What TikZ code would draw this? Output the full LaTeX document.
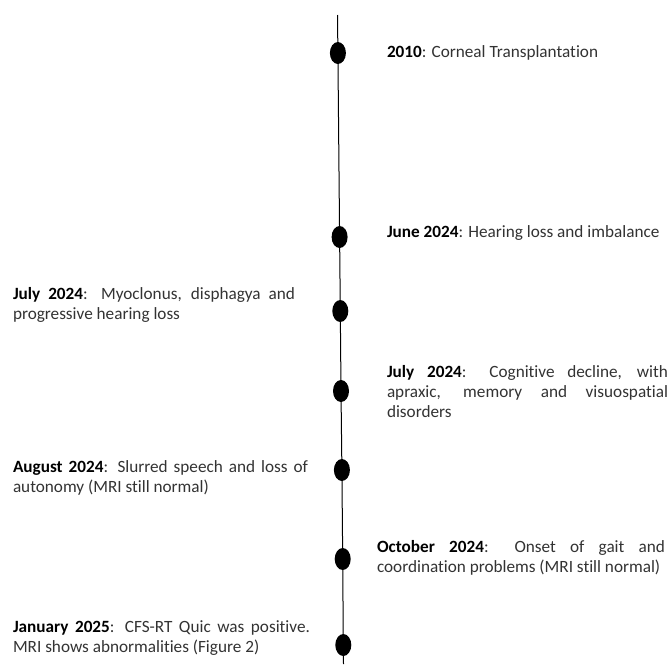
\documentclass[tikz,border=0pt]{standalone}
\usepackage{fontspec}
\setmainfont{Carlito}[Ligatures={NoCommon}]
\usetikzlibrary{shapes.geometric}
\definecolor{txt}{gray}{0.2}
\newcommand\yr[1]{{\bfseries\color{black}#1}}
\begin{document}
\begin{tikzpicture}[x=1pt,y=-1pt,
  dotnode/.style={ellipse, fill=black, draw=none, minimum width=16pt, minimum height=22pt, inner sep=0pt},
  lbl/.style={inner sep=0pt, outer sep=0pt, anchor=base west, text=txt, font=\fontsize{17.2}{20}\selectfont},
  blk/.style={lbl, align=justify, execute at begin node={\hyphenpenalty=10000\exhyphenpenalty=10000}},
  axis/.style={draw=black, line width=1pt}
]
\useasboundingbox (0,0) rectangle (668,664);
\fill[white] (0,0) rectangle (668,664);

\coordinate (top) at (337.5,15);
\coordinate (bot) at (343.5,664);
\node[dotnode] (d1) at (337.9,53) {};
\node[dotnode] (d2) at (339.6,237) {};
\node[dotnode] (d3) at (340.3,311) {};
\node[dotnode] (d4) at (341.0,391) {};
\node[dotnode] (d5) at (341.9,470) {};
\node[dotnode] (d6) at (342.7,559) {};
\node[dotnode] (d7) at (343.3,645) {};
\draw[axis] (top) -- (d1) -- (d2) -- (d3) -- (d4) -- (d5) -- (d6) -- (d7) -- (bot);

\node[lbl] (t1) at (387,57) {\yr{2010}: Corneal Transplantation};
\node[lbl] (t2) at (387,237) {\yr{June 2024}: Hearing loss and imbalance};
\node[blk, text width=282pt] (t3) at (13,299) {\yr{July 2024}: Myoclonus, disphagya and\linebreak progressive hearing loss};
\node[blk, text width=281pt] (t4) at (387,377) {\yr{July 2024}: Cognitive decline, with\linebreak apraxic, memory and visuospatial\linebreak disorders};
\node[blk, text width=295pt] (t5) at (13,472) {\yr{August 2024}: Slurred speech and loss of\linebreak autonomy (MRI still normal)};
\node[blk, text width=288pt] (t6) at (377,552) {\yr{October 2024}: Onset of gait and\linebreak coordination problems (MRI still normal)};
\node[blk, text width=297pt] (t7) at (13,632) {\yr{January 2025}: CFS-RT Quic was positive.\linebreak MRI shows abnormalities (Figure 2)};
\end{tikzpicture}
\end{document}
